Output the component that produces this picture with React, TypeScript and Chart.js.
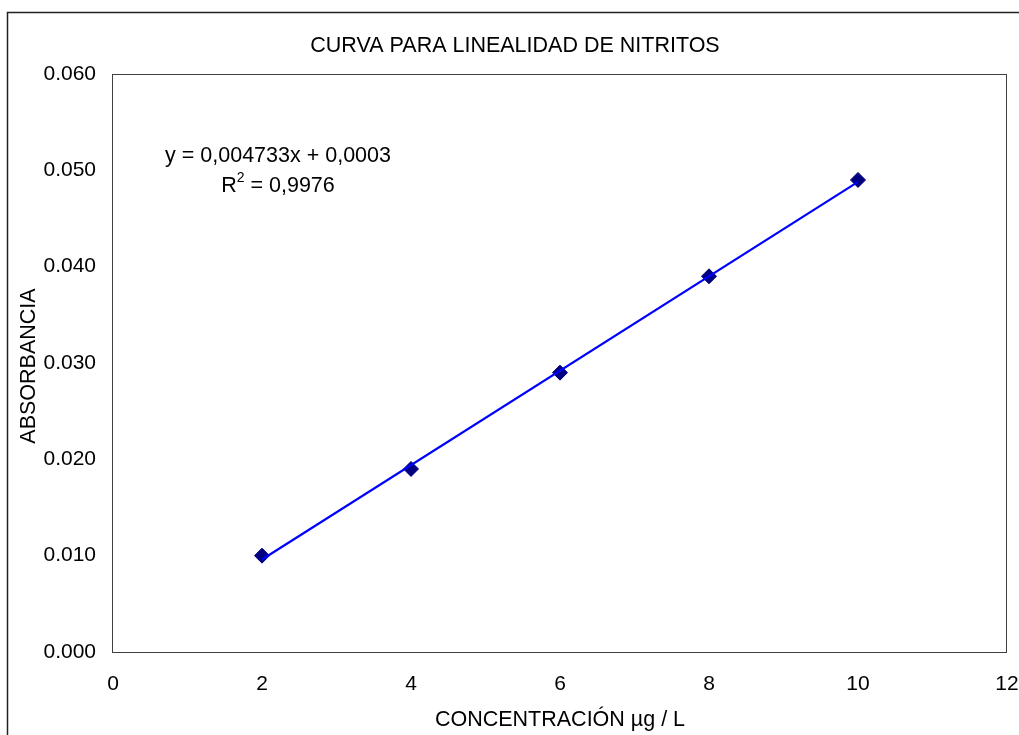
import React, { useEffect, useRef } from "react";
import { Chart, registerables } from "chart.js";

Chart.register(...registerables);

const TITLE = "CURVA PARA LINEALIDAD DE NITRITOS";
const X_TITLE = "CONCENTRACIÓN µg / L";
const Y_TITLE = "ABSORBANCIA";
const concentrations = [2, 4, 6, 8, 10];
const absorbances = [0.01, 0.019, 0.029, 0.039, 0.049];
const equationText = "y = 0,004733x + 0,0003";
const r2Value = "0,9976";

const FONT = "'Liberation Sans', Arial, sans-serif";
const FS = 21;
const TFS = 21.5;

function regression(xs: number[], ys: number[]) {
  const n = xs.length;
  const mx = xs.reduce((a, b) => a + b, 0) / n;
  const my = ys.reduce((a, b) => a + b, 0) / n;
  let sxy = 0, sxx = 0;
  for (let i = 0; i < n; i++) {
    sxy += (xs[i] - mx) * (ys[i] - my);
    sxx += (xs[i] - mx) * (xs[i] - mx);
  }
  const m = sxy / sxx;
  return { m, b: my - m * mx };
}

export default function App() {
  const ref = useRef<HTMLCanvasElement>(null);
  useEffect(() => {
    const canvas = ref.current!;
    const { m, b } = regression(concentrations, absorbances);
    const xMin = Math.min(...concentrations);
    const xMax = Math.max(...concentrations);
    const trend = [
      { x: xMin, y: m * xMin + b },
      { x: xMax, y: m * xMax + b },
    ];
    const deco = {
      id: "deco",
      beforeDraw(chart: any) {
        const ctx = chart.ctx;
        ctx.save();
        ctx.fillStyle = "#fff";
        ctx.fillRect(0, 0, chart.width, chart.height);
        ctx.strokeStyle = "#222";
        ctx.lineWidth = 1.5;
        ctx.strokeRect(7.5, 12.5, chart.width + 20, chart.height + 20);
        ctx.restore();
      },
      afterDraw(chart: any) {
        const ctx = chart.ctx;
        const a = chart.chartArea;
        ctx.save();
        ctx.strokeStyle = "#404040";
        ctx.lineWidth = 1;
        ctx.strokeRect(a.left - 0.5, a.top + 0.5, a.right - a.left, a.bottom - a.top);
        ctx.fillStyle = "#000";
        ctx.font = `${TFS}px ${FONT}`;
        ctx.textBaseline = "middle";
        ctx.textAlign = "center";
        ctx.fillText(TITLE, 515, 46);
        ctx.fillText(X_TITLE, (a.left + a.right) / 2, 720);
        ctx.save();
        ctx.translate(29, (a.top + a.bottom) / 2 + 3);
        ctx.rotate(-Math.PI / 2);
        ctx.fillText(Y_TITLE, 0, 0);
        ctx.restore();
        ctx.fillText(equationText, 278, 156);
        // R² line
        const part1 = "R";
        const sup = "2";
        const part2 = " = " + r2Value;
        ctx.textAlign = "left";
        const w1 = ctx.measureText(part1).width;
        const w3 = ctx.measureText(part2).width;
        ctx.font = `${Math.round(TFS * 0.65)}px ${FONT}`;
        const w2 = ctx.measureText(sup).width;
        const total = w1 + w2 + w3;
        let x = 278 - total / 2;
        const y = 186;
        ctx.font = `${TFS}px ${FONT}`;
        ctx.fillText(part1, x, y);
        x += w1;
        ctx.font = `${Math.round(TFS * 0.65)}px ${FONT}`;
        ctx.fillText(sup, x, y - 8);
        x += w2;
        ctx.font = `${TFS}px ${FONT}`;
        ctx.fillText(part2, x, y);
        ctx.restore();
      },
    };
    const chart = new Chart(canvas, {
      type: "scatter",
      data: {
        datasets: [
          {
            label: "trend",
            data: trend,
            showLine: true,
            borderColor: "#0000FF",
            borderWidth: 2.2,
            pointRadius: 0,
            order: 0,
          },
          {
            label: "data",
            data: concentrations.map((x, i) => ({ x, y: absorbances[i] })),
            pointStyle: "rectRot",
            pointRadius: 7.5,
            backgroundColor: "#000080",
            borderColor: "#000080",
            borderWidth: 1,
            order: 1,
          },
        ],
      },
      options: {
        responsive: false,
        animation: false,
        layout: { padding: { left: 0, top: 74, right: 12, bottom: 0 } },
        plugins: { legend: { display: false }, tooltip: { enabled: false }, title: { display: false } },
        scales: {
          x: {
            type: "linear",
            min: 0,
            max: 12,
            grid: { display: false, drawTicks: false },
            border: { display: false },
            ticks: {
              stepSize: 2,
              padding: 20,
              color: "#000",
              font: { family: FONT, size: FS },
            },
            afterFit(s: any) {
              s.height = 83;
              s.paddingLeft = 0;
              s.paddingRight = 0;
            },
          },
          y: {
            type: "linear",
            min: 0,
            max: 0.06,
            grid: { display: false, drawTicks: false },
            border: { display: false },
            ticks: {
              stepSize: 0.01,
              padding: 17,
              color: "#000",
              font: { family: FONT, size: FS },
              callback: (v: any) => Number(v).toFixed(3),
            },
            afterFit(s: any) {
              s.width = 113;
              s.paddingTop = 0;
              s.paddingBottom = 0;
            },
          },
        },
      },
      plugins: [deco],
    });
    return () => chart.destroy();
  }, []);
  return (
    <div style={{ position: "fixed", left: 0, top: 0 }}>
      <canvas ref={ref} width={1019} height={735} style={{ display: "block" }} />
    </div>
  );
}
